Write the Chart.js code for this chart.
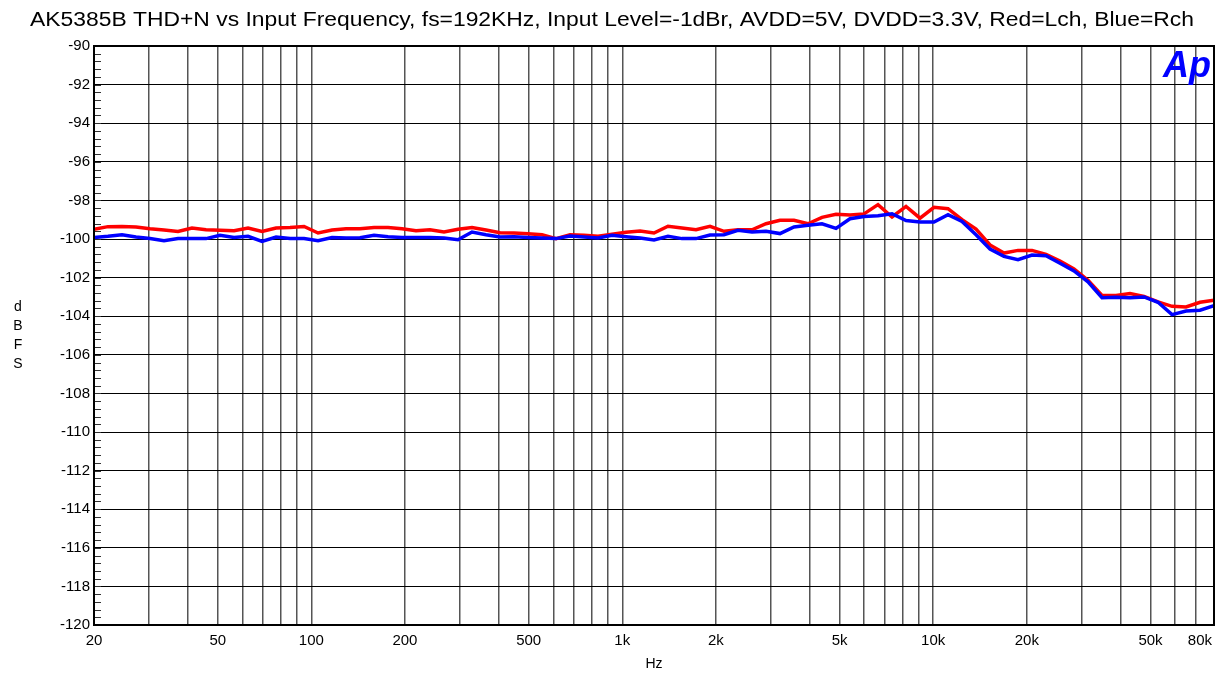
<!DOCTYPE html>
<html>
<head>
<meta charset="utf-8">
<title>AK5385B THD+N vs Input Frequency</title>
<script src="https://cdn.jsdelivr.net/npm/chart.js@4.4.1/dist/chart.umd.min.js"></script>
<style>
  html, body { margin: 0; padding: 0; background: #fff; }
  canvas { display: block; }
</style>
</head>
<body>
<canvas id="thdChart" width="1225" height="676"></canvas>
<script>
const chartTitle = "AK5385B THD+N vs Input Frequency, fs=192KHz, Input Level=-1dBr, AVDD=5V, DVDD=3.3V, Red=Lch, Blue=Rch";
const FONT = "'Liberation Sans', Arial, sans-serif";

// sweep points (Hz)
const freqs = [
  20, 22.18, 24.61, 27.30, 30.28, 33.59, 37.26, 41.33, 45.85, 50.86,
  56.42, 62.58, 69.42, 77.01, 85.42, 94.76, 105.1, 116.6, 129.3, 143.4,
  159.1, 176.5, 195.7, 217.1, 240.8, 267.1, 296.3, 328.7, 364.6, 404.4,
  448.6, 497.6, 552.0, 612.3, 679.2, 753.4, 835.7, 927.0, 1028, 1141,
  1265, 1403, 1556, 1726, 1915, 2124, 2356, 2614, 2899, 3216,
  3567, 3957, 4389, 4869, 5401, 5991, 6645, 7372, 8177, 9070,
  10060, 11160, 12380, 13730, 15230, 16890, 18740, 20790, 23060, 25580,
  28370, 31470, 34910, 38720, 42950, 47650, 52850, 58630, 65030, 72130,
  80000
];

// THD+N, dBFS - red
const lchValues = [
  -99.50, -99.36, -99.35, -99.38, -99.47, -99.53, -99.61, -99.43, -99.52, -99.55,
  -99.57, -99.43, -99.61, -99.43, -99.40, -99.35, -99.69, -99.53, -99.47, -99.47,
  -99.40, -99.40, -99.47, -99.57, -99.52, -99.64, -99.50, -99.40, -99.53, -99.67,
  -99.69, -99.73, -99.78, -99.98, -99.78, -99.81, -99.86, -99.75, -99.65, -99.59,
  -99.69, -99.34, -99.43, -99.52, -99.34, -99.60, -99.52, -99.52, -99.21, -99.03,
  -99.03, -99.21, -98.88, -98.72, -98.76, -98.70, -98.22, -98.86, -98.31, -98.92,
  -98.36, -98.43, -99.00, -99.49, -100.31, -100.73, -100.59, -100.59, -100.80, -101.14,
  -101.55, -102.14, -102.92, -102.93, -102.83, -102.97, -103.26, -103.49, -103.52, -103.28,
  -103.17
];

// THD+N, dBFS - blue
const rchValues = [
  -99.92, -99.86, -99.78, -99.90, -99.97, -100.09, -99.98, -99.98, -99.98, -99.81,
  -99.92, -99.86, -100.12, -99.90, -99.98, -99.98, -100.09, -99.92, -99.95, -99.93,
  -99.81, -99.88, -99.92, -99.92, -99.92, -99.95, -100.04, -99.64, -99.78, -99.90,
  -99.88, -99.92, -99.95, -99.98, -99.84, -99.90, -99.95, -99.81, -99.88, -99.95,
  -100.05, -99.86, -99.98, -99.98, -99.79, -99.78, -99.55, -99.64, -99.60, -99.72,
  -99.38, -99.29, -99.21, -99.45, -98.95, -98.83, -98.79, -98.69, -99.04, -99.12,
  -99.12, -98.74, -99.09, -99.78, -100.52, -100.90, -101.07, -100.83, -100.87, -101.26,
  -101.65, -102.22, -103.04, -103.02, -103.05, -103.00, -103.28, -103.92, -103.73, -103.69,
  -103.45
];

const xTickValues = [20, 50, 100, 200, 500, 1000, 2000, 5000, 10000, 20000, 50000, 80000];
const xTickLabels = ["20", "50", "100", "200", "500", "1k", "2k", "5k", "10k", "20k", "50k", "80k"];
const xGridValues = [
  20, 30, 40, 50, 60, 70, 80, 90,
  100, 200, 300, 400, 500, 600, 700, 800, 900,
  1000, 2000, 3000, 4000, 5000, 6000, 7000, 8000, 9000,
  10000, 20000, 30000, 40000, 50000, 60000, 70000, 80000
];
const yLabelLetters = ["d", "B", "F", "S"];

// frame, minor ticks, x labels, titles and the Ap logo
const apDecor = {
  id: "apDecor",
  afterDraw(chart) {
    const { ctx, chartArea: area, scales } = chart;
    const xs = scales.x, ys = scales.y;
    ctx.save();

    // minor ticks on the left edge
    ctx.strokeStyle = "#333";
    ctx.lineWidth = 1;
    ctx.beginPath();
    for (let k = 0; k <= 75; k++) {
      const py = Math.round(ys.getPixelForValue(-120 + k * 0.4)) + 0.5;
      ctx.moveTo(area.left, py);
      ctx.lineTo(area.left + 7, py);
    }
    ctx.stroke();

    // plot frame
    ctx.strokeStyle = "#000";
    ctx.lineWidth = 2;
    ctx.strokeRect(area.left, area.top, area.right - area.left, area.bottom - area.top);

    ctx.fillStyle = "#000";
    ctx.font = "15px " + FONT;
    ctx.textBaseline = "middle";
    xTickValues.forEach((v, i) => {
      const px = xs.getPixelForValue(v);
      const w = ctx.measureText(xTickLabels[i]).width;
      if (px + w / 2 > area.right) {
        ctx.textAlign = "right";
        ctx.fillText(xTickLabels[i], area.right - 2, area.bottom + 16);
      } else {
        ctx.textAlign = "center";
        ctx.fillText(xTickLabels[i], px, area.bottom + 16);
      }
    });

    // axis titles
    ctx.font = "14px " + FONT;
    ctx.textAlign = "center";
    ctx.fillText("Hz", (area.left + area.right) / 2, 664);
    const midY = (area.top + area.bottom) / 2;
    yLabelLetters.forEach((ch, i) => {
      ctx.fillText(ch, 18, midY + (i - 1.5) * 19);
    });

    // chart title, a little wider than the font gives
    ctx.font = "20px " + FONT;
    const tw = ctx.measureText(chartTitle).width;
    ctx.save();
    ctx.translate(612, 20);
    ctx.scale(1164 / tw, 1);
    ctx.fillText(chartTitle, 0, 0);
    ctx.restore();

    // Ap logo
    ctx.fillStyle = "#0000ff";
    ctx.font = "italic bold 36px " + FONT;
    ctx.textAlign = "right";
    ctx.textBaseline = "alphabetic";
    ctx.fillText("Ap", area.right - 3, 77);

    ctx.restore();
  }
};

const ctx = document.getElementById("thdChart");
const thdChart = new Chart(ctx, {
  type: "line",
  data: {
    datasets: [
      {
        label: "Rch",
        data: freqs.map((f, i) => ({ x: f, y: rchValues[i] })),
        borderColor: "#0000ff",
        borderWidth: 3.5,
        pointRadius: 0,
        tension: 0,
        order: 0,
      },
      {
        label: "Lch",
        data: freqs.map((f, i) => ({ x: f, y: lchValues[i] })),
        borderColor: "#ff0000",
        borderWidth: 3.5,
        pointRadius: 0,
        tension: 0,
        order: 1,
      },
    ],
  },
  options: {
    responsive: false,
    animation: false,
    devicePixelRatio: 1,
    layout: { padding: { top: 46, right: 11, left: 0, bottom: 0 } },
    plugins: {
      legend: { display: false },
      title: { display: false },
      tooltip: { enabled: false },
    },
    scales: {
      x: {
        type: "logarithmic",
        min: 20,
        max: 80000,
        afterBuildTicks: (scale) => {
          scale.ticks = xGridValues.map((v) => ({ value: v }));
        },
        afterFit: (scale) => {
          scale.height = 51;
        },
        ticks: { display: false, autoSkip: false },
        grid: { color: "#555", lineWidth: 1.5, drawTicks: false },
        border: { display: false },
      },
      y: {
        min: -120,
        max: -90,
        afterFit: (scale) => {
          scale.width = 94;
        },
        ticks: {
          stepSize: 2,
          color: "#000",
          padding: 4,
          font: { size: 15, family: FONT },
        },
        grid: { color: "#000", drawTicks: false },
        border: { display: false },
      },
    },
  },
  plugins: [apDecor],
});
</script>
</body>
</html>
